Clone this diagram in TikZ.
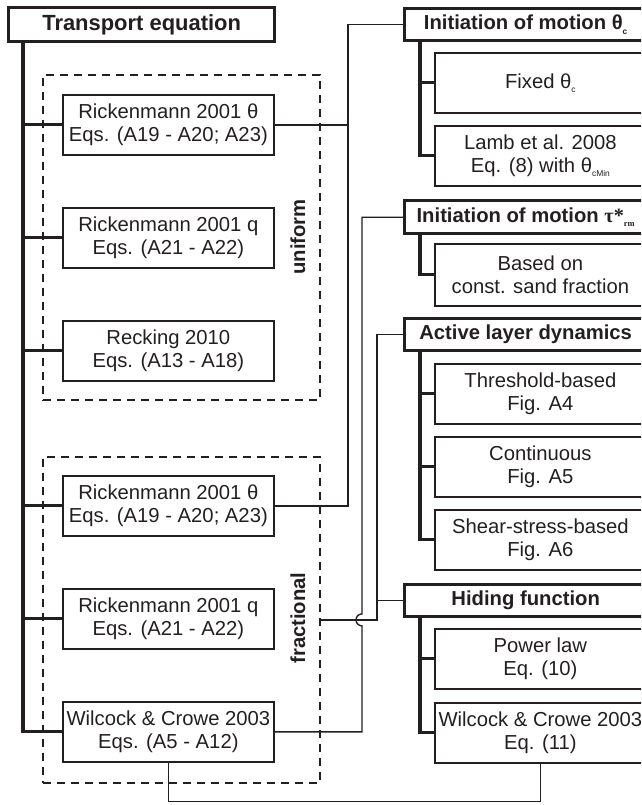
\documentclass[tikz,border=0pt]{standalone}
\usepackage{fontspec}
\setmainfont{Liberation Sans}
\newfontfamily\greekserif{Liberation Serif}
\usetikzlibrary{calc}
\definecolor{ink}{RGB}{35,31,32}
\newcommand{\tinysub}[1]{\raisebox{-0.4ex}{\fontsize{6}{6}\selectfont #1}}

\tikzset{
  leaf/.style={draw=ink, line width=1.2pt, anchor=north west, inner sep=0pt,
    minimum width=5.275cm, minimum height=1.5cm, align=center, text=ink,
    font=\fontsize{14.4}{16.3}\selectfont},
  head/.style={draw=ink, line width=2.3pt, anchor=north west, inner sep=0pt,
    minimum width=6.05cm, minimum height=0.8cm, text=ink,
    font=\fontsize{14.4}{16.3}\selectfont\bfseries},
  group/.style={draw=ink, line width=1.2pt, dash pattern=on 0.2cm off 0.15cm,
    anchor=north west, inner sep=0pt},
  grouplabel/.style={rotate=90, text=ink, font=\fontsize{14.4}{16}\selectfont\bfseries},
  trunk/.style={draw=ink, line width=2.3pt},
  link/.style={draw=ink, line width=1pt},
}

\begin{document}
\begin{tikzpicture}[x=0.025cm,y=-0.025cm]
  \useasboundingbox (0,0) rectangle (641,805);
  \clip (0,0) rectangle (641,805);

  % left column
  \node[head, minimum width=6.65cm, minimum height=0.85cm,
    font=\fontsize{15.6}{18}\selectfont\bfseries] (trans) at (7,6) {Transport equation};
  \node[group, minimum width=6.925cm, minimum height=8.125cm] (uni) at (42,74) {};
  \node[group, minimum width=6.925cm, minimum height=8.15cm] (frac) at (42,456) {};
  \node[grouplabel] (unilab) at (298,237) {uniform};
  \node[grouplabel] (fraclab) at (298,618) {fractional};

  \node[leaf] (u1) at (62,94) {Rickenmann 2001 θ\\Eqs. (A19 - A20; A23)};
  \node[leaf] (u2) at (62,207) {Rickenmann 2001 q\\Eqs. (A21 - A22)};
  \node[leaf] (u3) at (62,320) {Recking 2010\\Eqs. (A13 - A18)};
  \node[leaf] (f1) at (62,475) {Rickenmann 2001 θ\\Eqs. (A19 - A20; A23)};
  \node[leaf] (f2) at (62,588) {Rickenmann 2001 q\\Eqs. (A21 - A22)};
  \node[leaf] (f3) at (62,701) {Wilcock \& Crowe 2003\\Eqs. (A5 - A12)};

  \draw[trunk] (trans.south west) ++(16,0) |- (f3.west);
  \foreach \b in {u1,u2,u3,f1,f2}
    \draw[trunk] (\b.west) -- ++(-39,0);

  % right column
  \node[head] (h1) at (403,7) {Initiation of motion θ\tinysub{c}};
  \node[leaf] (s11) at (434,52) {Fixed θ\tinysub{c}};
  \node[leaf] (s12) at (434,125) {Lamb et al. 2008\\Eq. (8) with θ\tinysub{cMin}};

  \node[head, minimum height=0.83cm] (h2) at (403,199)
    {Initiation of motion {\greekserif τ*}\tinysub{\greekserif rm}};
  \node[leaf, minimum height=1.55cm] (s21) at (434,243) {Based on\\const. sand fraction};

  \node[head] (h3) at (403,317) {Active layer dynamics};
  \node[leaf] (s31) at (434,363) {Threshold-based\\Fig. A4};
  \node[leaf] (s32) at (434,436) {Continuous\\Fig. A5};
  \node[leaf] (s33) at (434,509) {Shear-stress-based\\Fig. A6};

  \node[head] (h4) at (403,583) {Hiding function};
  \node[leaf] (s41) at (434,628) {Power law\\Eq. (10)};
  \node[leaf] (s42) at (434,702) {Wilcock \& Crowe 2003\\Eq. (11)};

  \draw[trunk] (h1.south west) ++(17,0) |- (s12.west);
  \draw[trunk] (s11.west) -- ++(-14,0);
  \draw[trunk] (h2.south west) ++(17,0) |- (s21.west);
  \draw[trunk] (h3.south west) ++(17,0) |- (s33.west);
  \draw[trunk] (s31.west) -- ++(-14,0);
  \draw[trunk] (s32.west) -- ++(-14,0);
  \draw[trunk] (h4.south west) ++(17,0) |- (s42.west);
  \draw[trunk] (s41.west) -- ++(-14,0);

  % connectors
  \coordinate (ja) at (348,0);
  \coordinate (jb) at (362,0);
  \coordinate (jc) at (377,0);
  \draw[link] (u1.east) -- (u1.east -| ja);
  \draw[link] (f1.east) -| (ja |- h1.west) -- (h1.west);
  \draw[link] (f3.east) -| ($(jb |- frac.east)+(0,6)$)
    arc[start angle=90, end angle=270, radius=6] |- (h2.west);
  \draw[link] (frac.east) -| (jc |- h3.west) -- (h3.west);
  \draw[link] (h4.west) -- (h4.west -| jc);
  \draw[link] (f3.south) -- ++(0,39) -| (s42.south);
\end{tikzpicture}
\end{document}
